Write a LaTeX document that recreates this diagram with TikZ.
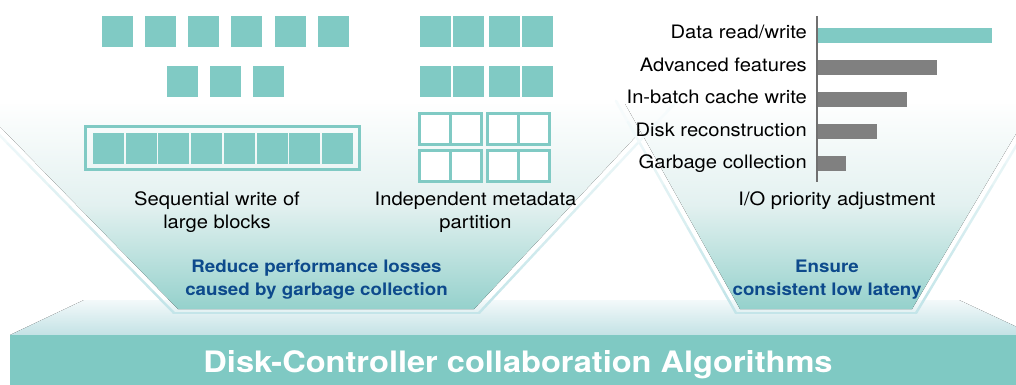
\documentclass[tikz,border=0pt]{standalone}
\usepackage{fontspec}
\setmainfont{TeX Gyre Heros}[FakeStretch=1.09]
\usetikzlibrary{calc}
\definecolor{teal1}{HTML}{80CAC4}
\definecolor{gray1}{HTML}{808080}
\definecolor{axis1}{HTML}{707070}
\definecolor{navy1}{HTML}{0D4A8C}
\definecolor{front1}{HTML}{7FC9C3}
\definecolor{funbot}{HTML}{95D1CC}
\definecolor{funmid}{HTML}{E3F1F0}
\definecolor{edge1}{HTML}{C4E5E9}
\definecolor{topA}{HTML}{F3F9FA}
\definecolor{topB}{HTML}{C3E2E5}
\tikzset{
  blk/.style={fill=teal1},
  hollow/.style={draw=teal1, line width=3pt, fill=white},
  frame1/.style={draw=teal1, line width=3pt},
  lbl/.style={font=\fontsize{18.5}{23}\selectfont, text=black, inner sep=0pt},
  goal/.style={font=\fontsize{17.2}{23}\selectfont\bfseries, text=navy1, inner sep=0pt},
  bar/.style={fill=gray1},
  rim/.style={line width=2.5pt, line cap=round},
  funfill/.style={top color=white, bottom color=funbot, middle color=funmid},
}
\begin{document}
\begin{tikzpicture}[x=1pt,y=-1pt]
\useasboundingbox (0,0) rectangle (1016,385);
% platform
\fill[top color=topA, bottom color=topB] (84,300) -- (959,300) -- (1034,335) -- (10,335) -- cycle;
\fill[front1] (10,335) rectangle (1020,386);
% funnels
\fill[funfill] (-26,100) -- (178,309) -- (474,309) -- (670,100) -- cycle;
\fill[funfill] (623,100) -- (740,309) -- (912,309) -- (1036,100) -- cycle;
\fill[white] (-5,92) rectangle (1021,104);
% funnel rims, fading towards the top
\foreach \ax/\ay/\bx/\by in {-34/101/174/313, 677/101/479/313, 616/101/736/313, 1043/101/916/313} {
  \foreach \i in {0,...,9} {
    \pgfmathsetmacro\pct{15+9.4*\i}
    \draw[rim, draw=edge1!\pct!white] ($(\ax,\ay)!{\i/10}!(\bx,\by)$) -- ($(\ax,\ay)!{(\i+1)/10}!(\bx,\by)$);
  }
}
\draw[rim, draw=edge1] (174,313) -- (479,313);
\draw[rim, draw=edge1] (736,313) -- (916,313);
% title
\node[anchor=base, inner sep=0pt, text=white] (title) at (518,372)
  {\resizebox{629pt}{22pt}{\bfseries Disk-Controller collaboration Algorithms}};
% left squares
\foreach \x in {102,145,188,231,275,318} \fill[blk] (\x,16) rectangle ++(31,31);
\foreach \x in {167,210,253} \fill[blk] (\x,66) rectangle ++(31,31);
% long bar
\draw[frame1] (85.5,126.5) rectangle (359.5,169.5);
\foreach \x in {93,126,158,191,224,257,289,322} \fill[blk] (\x,133) rectangle ++(31,31);
% metadata blocks
\foreach \y in {16,66} {
  \foreach \x in {420,453,489,522} \fill[blk] (\x,\y) rectangle ++(31,31);
}
\foreach \y in {113.5,150.5} {
  \foreach \x in {419.5,487.5} {
    \draw[hollow] (\x,\y) rectangle ++(31,31);
    \draw[hollow] (\x+31,\y) rectangle ++(31,31);
  }
}
% texts left
\node[lbl, anchor=base] (s1) at (217,205) {Sequential write of};
\node[lbl, anchor=base] (s2) at (217,228) {large blocks};
\node[lbl, anchor=base] (m1) at (475.5,205) {Independent metadata};
\node[lbl, anchor=base] (m2) at (475.5,228) {partition};
\node[goal, anchor=base] (g1) at (316.5,272) {Reduce performance losses};
\node[goal, anchor=base] (g2) at (316.5,295) {caused by garbage collection};
% chart
\fill[teal1] (818,28) rectangle (992,43);
\fill[bar] (818,60) rectangle (937,75);
\fill[bar] (818,92) rectangle (907,107);
\fill[bar] (818,124) rectangle (877,139);
\fill[bar] (818,156) rectangle (846,171);
\draw[axis1, line width=2.5pt] (817,16) -- (817,182);
\node[lbl, anchor=base east] (c1) at (807,39) {Data read/write};
\node[lbl, anchor=base east] (c2) at (807,71.5) {Advanced features};
\node[lbl, anchor=base east] (c3) at (807,104) {In-batch cache write};
\node[lbl, anchor=base east] (c4) at (807,136) {Disk reconstruction};
\node[lbl, anchor=base east] (c5) at (807,168) {Garbage collection};
\node[lbl, anchor=base] (io) at (837,205) {I/O priority adjustment};
\node[goal, anchor=base] (e1) at (827,272) {Ensure};
\node[goal, anchor=base] (e2) at (827,295) {consistent low lateny};
\end{tikzpicture}
\end{document}
